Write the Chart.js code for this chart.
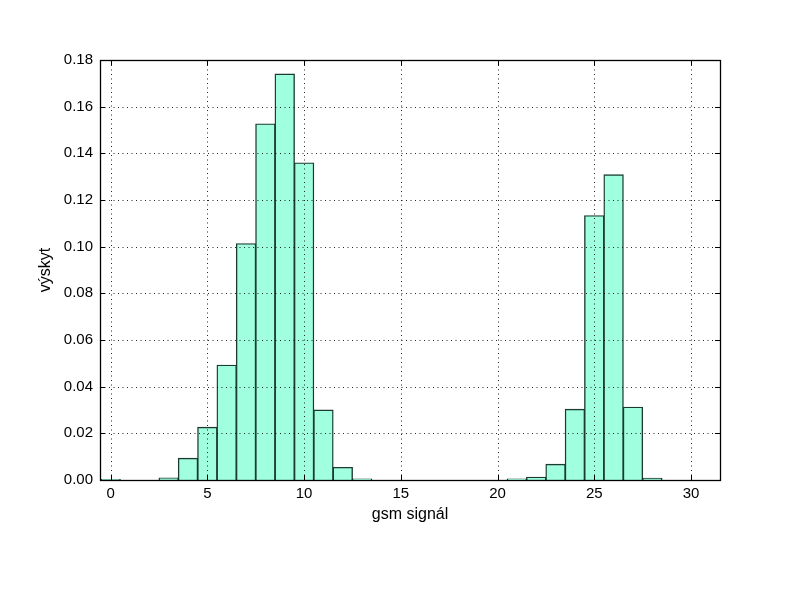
<!DOCTYPE html>
<html>
<head>
<meta charset="utf-8">
<script src="https://cdn.jsdelivr.net/npm/chart.js@4/dist/chart.umd.min.js"></script>
<style>
  html, body { margin: 0; padding: 0; background: #ffffff; }
  #wrap { width: 800px; height: 600px; }
</style>
</head>
<body>
<div id="wrap"><canvas id="c" width="800" height="600"></canvas></div>
<script>
// ---- data ----
const binCenters = [0,1,2,3,4,5,6,7,8,9,10,11,12,13,14,15,16,17,18,19,20,21,22,23,24,25,26,27,28,29,30,31];
const frequency  = [0.0002,0,0,0.0009,0.0093,0.0226,0.0492,0.1013,0.1526,0.1740,0.1359,0.0300,0.0054,0.0004,
                    0,0,0,0,0,0,0,0.0004,0.0012,0.0067,0.0303,0.1133,0.1308,0.0312,0.0007,0,0,0];
const xTickValues = [0,5,10,15,20,25,30];
const yTickValues = [0,0.02,0.04,0.06,0.08,0.10,0.12,0.14,0.16,0.18];
const xTitle = 'gsm signál';
const yTitle = 'výskyt';

const points = binCenters.map((x, i) => ({ x: x, y: frequency[i] }));

const frameAndGrid = {
  id: 'frameAndGrid',
  afterDatasetsDraw(chart) {
    const { ctx, chartArea: a, scales: { x, y } } = chart;
    ctx.save();
    // dotted grid on top of bars
    ctx.strokeStyle = 'rgba(0,0,0,0.85)';
    ctx.lineWidth = 1;
    ctx.setLineDash([1, 3.5]);
    xTickValues.forEach(v => {
      const px = Math.round(x.getPixelForValue(v)) + 0.5;
      ctx.beginPath(); ctx.moveTo(px, a.bottom); ctx.lineTo(px, a.top); ctx.stroke();
    });
    yTickValues.forEach(v => {
      const py = Math.round(y.getPixelForValue(v)) + 0.5;
      ctx.beginPath(); ctx.moveTo(a.left, py); ctx.lineTo(a.right, py); ctx.stroke();
    });
    ctx.setLineDash([]);
    // frame
    ctx.strokeStyle = '#000000';
    ctx.lineWidth = 1.3;
    ctx.strokeRect(Math.round(a.left) + 0.5, Math.round(a.top) + 0.5,
                   Math.round(a.right - a.left), Math.round(a.bottom - a.top));
    // inward ticks on all sides
    const tl = 5;
    ctx.lineWidth = 1;
    xTickValues.forEach(v => {
      const px = Math.round(x.getPixelForValue(v)) + 0.5;
      ctx.beginPath(); ctx.moveTo(px, a.bottom); ctx.lineTo(px, a.bottom - tl); ctx.stroke();
      ctx.beginPath(); ctx.moveTo(px, a.top); ctx.lineTo(px, a.top + tl); ctx.stroke();
    });
    yTickValues.forEach(v => {
      const py = Math.round(y.getPixelForValue(v)) + 0.5;
      ctx.beginPath(); ctx.moveTo(a.left, py); ctx.lineTo(a.left + tl, py); ctx.stroke();
      ctx.beginPath(); ctx.moveTo(a.right, py); ctx.lineTo(a.right - tl, py); ctx.stroke();
    });
    ctx.restore();
  }
};

new Chart(document.getElementById('c'), {
  type: 'bar',
  data: {
    datasets: [{
      data: points,
      backgroundColor: '#9fffdf',
      borderColor: '#1c3a31',
      borderWidth: 1.4,
      borderSkipped: 'start',
      barPercentage: 1.0,
      categoryPercentage: 1.0,
      inflateAmount: 0.5
    }]
  },
  options: {
    responsive: false,
    animation: false,
    events: [],
    layout: { padding: { left: 36, top: 60, right: 80, bottom: 76 } },
    plugins: { legend: { display: false }, tooltip: { enabled: false } },
    scales: {
      x: {
        type: 'linear',
        offset: false,
        min: -0.55,
        max: 31.5,
        afterBuildTicks: s => { s.ticks = xTickValues.map(v => ({ value: v })); },
        afterFit: s => { s.height = 44; },
        grid: { display: false, drawTicks: false },
        border: { display: false },
        ticks: {
          color: '#000000',
          font: { family: '"Liberation Sans", Arial, sans-serif', size: 15 },
          padding: 5,
          maxRotation: 0,
          autoSkip: false,
          callback: v => String(v)
        },
        title: {
          display: true,
          text: xTitle,
          color: '#000000',
          font: { family: '"Liberation Sans", Arial, sans-serif', size: 16 },
          padding: { top: 0, bottom: 0 }
        }
      },
      y: {
        type: 'linear',
        min: 0,
        max: 0.18,
        afterBuildTicks: s => { s.ticks = yTickValues.map(v => ({ value: v })); },
        afterFit: s => { s.width = 64; },
        grid: { display: false, drawTicks: false },
        border: { display: false },
        ticks: {
          color: '#000000',
          font: { family: '"Liberation Sans", Arial, sans-serif', size: 15 },
          padding: 7,
          autoSkip: false,
          callback: v => Number(v).toFixed(2)
        },
        title: {
          display: true,
          text: yTitle,
          color: '#000000',
          font: { family: '"Liberation Sans", Arial, sans-serif', size: 16 },
          padding: { top: 0, bottom: 0 }
        }
      }
    }
  },
  plugins: [frameAndGrid]
});
</script>
</body>
</html>
